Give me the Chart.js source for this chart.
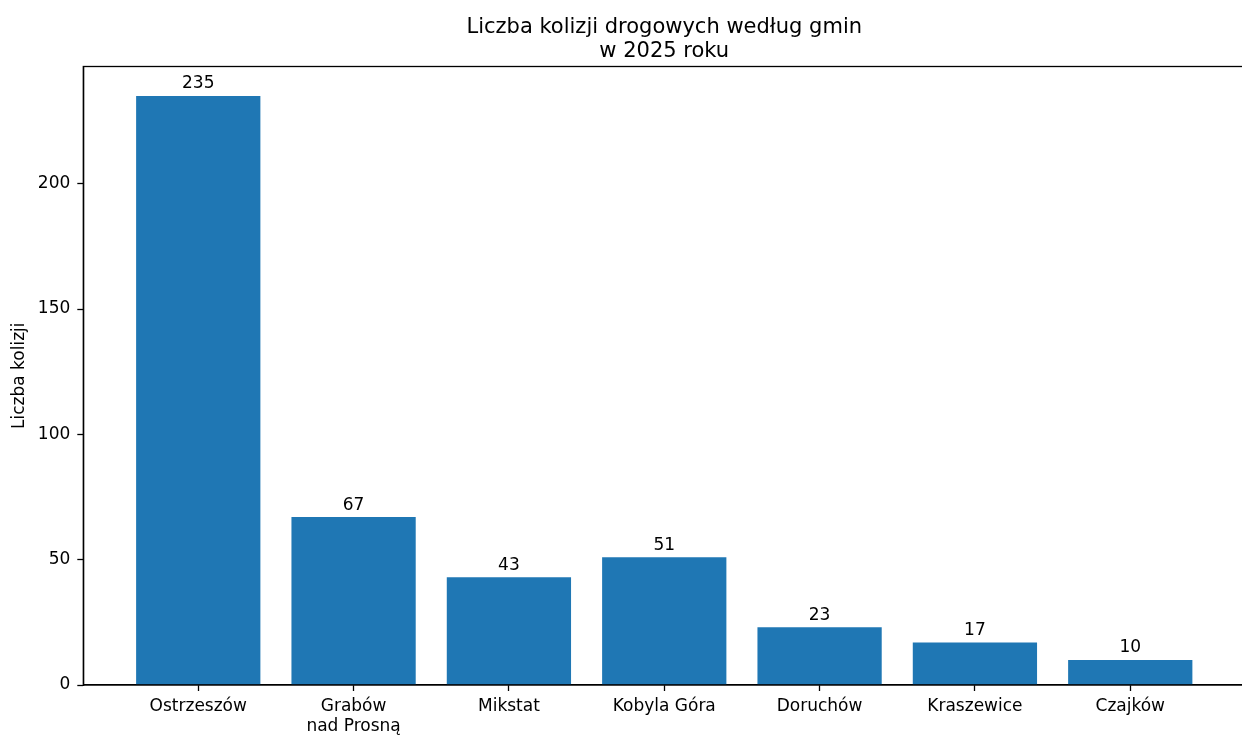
<!DOCTYPE html>
<html>
<head>
<meta charset="utf-8">
<script src="https://cdn.jsdelivr.net/npm/chart.js@4"></script>
<style>
  html, body { margin: 0; padding: 0; background: #fff; overflow: hidden; }
  #wrap { width: 1250px; height: 744px; position: relative; }
</style>
</head>
<body>
<div id="wrap"><canvas id="kolizjeChart"></canvas></div>
<script>
// --- dane ---
const gminy = ['Ostrzeszów', ['Grabów', 'nad Prosną'], 'Mikstat', 'Kobyla Góra', 'Doruchów', 'Kraszewice', 'Czajków'];
const kolizje = [235, 67, 43, 51, 23, 17, 10];
const yTicks = [0, 50, 100, 150, 200];
const tytul = ['Liczba kolizji drogowych według gmin', 'w 2025 roku'];
const osY = 'Liczba kolizji';

const FONT = "'DejaVu Sans', sans-serif";
const BLUE = '#1f77b4';

// ramka, tytuł, podpisy słupków
const extras = {
    id: 'extras',
    afterDraw(chart) {
        const { ctx, chartArea: a } = chart;
        ctx.save();
        ctx.strokeStyle = '#000';
        ctx.lineWidth = 1.3;
        ctx.strokeRect(a.left, a.top, a.right - a.left, a.bottom - a.top);

        ctx.fillStyle = '#000';
        ctx.textAlign = 'center';
        ctx.textBaseline = 'alphabetic';
        ctx.font = `21px ${FONT}`;
        const cx = (a.left + a.right) / 2;
        ctx.fillText(tytul[0], cx, 33);
        ctx.fillText(tytul[1], cx, 57);

        // wartości nad słupkami
        ctx.font = `17px ${FONT}`;
        const meta = chart.getDatasetMeta(0);
        meta.data.forEach((bar, i) => {
            ctx.fillText(String(kolizje[i]), bar.x, bar.y - 7.5);
        });

        // tytuł osi Y
        ctx.translate(20, (a.top + a.bottom) / 2);
        ctx.rotate(-Math.PI / 2);
        ctx.textBaseline = 'middle';
        ctx.fillText(osY, 0, 0);
        ctx.restore();
    }
};

const ctx = document.getElementById('kolizjeChart').getContext('2d');
new Chart(ctx, {
    type: 'bar',
    data: {
        datasets: [{
            data: kolizje.map((v, i) => ({ x: i, y: v })),
            backgroundColor: BLUE,
            borderWidth: 0,
            barPercentage: 0.8,
            categoryPercentage: 1.0
        }]
    },
    options: {
        responsive: true,
        maintainAspectRatio: false,
        animation: false,
        layout: { padding: { top: 66.5, right: 4.8, left: 0, bottom: 0 } },
        plugins: {
            legend: { display: false },
            tooltip: { enabled: false }
        },
        scales: {
            x: {
                type: 'linear',
                min: -0.74,
                max: 6.74,
                offset: false,
                afterBuildTicks: (scale) => { scale.ticks = gminy.map((_, i) => ({ value: i })); },
                afterFit: (scale) => { scale.height = 59; },
                grid: { display: true, drawOnChartArea: false, drawTicks: true, tickLength: 6, tickWidth: 1.3, tickColor: '#000', offset: false },
                border: { display: true, color: '#000', width: 1.3 },
                ticks: {
                    autoSkip: false,
                    maxRotation: 0,
                    padding: 5,
                    color: '#000',
                    font: { family: FONT, size: 17 },
                    callback: (v) => gminy[v]
                }
            },
            y: {
                min: 0,
                max: 246.75,
                afterBuildTicks: (scale) => { scale.ticks = yTicks.map(v => ({ value: v })); },
                afterFit: (scale) => { scale.width = 83.3; },
                grid: { display: true, drawOnChartArea: false, drawTicks: true, tickLength: 6, tickWidth: 1.3, tickColor: '#000' },
                border: { display: true, color: '#000', width: 1.3 },
                ticks: {
                    padding: 7,
                    color: '#000',
                    font: { family: FONT, size: 17 }
                }
            }
        }
    },
    plugins: [extras]
});
</script>
</body>
</html>
